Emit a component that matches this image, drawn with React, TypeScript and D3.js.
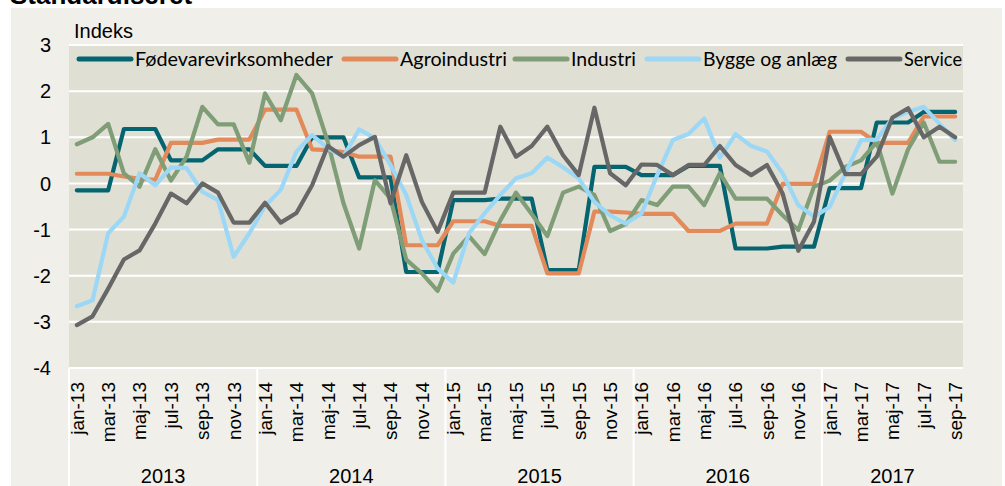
import React from "react";
import * as d3 from "d3";

const monthNames = ["jan", "feb", "mar", "apr", "maj", "jun", "jul", "aug", "sep", "okt", "nov", "dec"];
const years = ["2013", "2014", "2015", "2016", "2017"];
const months: string[] = [];
years.forEach((y) => monthNames.forEach((m) => months.push(`${m}-${y.slice(2)}`)));
const categories = months.slice(0, 57);

const yTicks = [-4, -3, -2, -1, 0, 1, 2, 3];

const fodevare = [
  -0.15, -0.15, -0.15, 1.18, 1.18, 1.18, 0.5, 0.5, 0.5, 0.74, 0.74, 0.74,
  0.38, 0.38, 0.38, 1.0, 1.0, 1.0, 0.13, 0.13, 0.13, -1.92, -1.92, -1.92,
  -0.36, -0.36, -0.36, -0.33, -0.33, -0.33, -1.88, -1.88, -1.88, 0.36, 0.36, 0.36,
  0.18, 0.18, 0.18, 0.38, 0.38, 0.38, -1.41, -1.41, -1.41, -1.37, -1.37, -1.37,
  -0.1, -0.1, -0.1, 1.32, 1.32, 1.32, 1.55, 1.55, 1.55,
];
const agro = [
  0.21, 0.21, 0.21, 0.15, 0.1, 0.08, 0.88, 0.88, 0.88, 0.95, 0.95, 0.95,
  1.6, 1.6, 1.6, 0.74, 0.72, 0.68, 0.58, 0.58, 0.58, -1.34, -1.34, -1.34,
  -0.82, -0.82, -0.82, -0.92, -0.92, -0.92, -1.95, -1.95, -1.95, -0.61, -0.61, -0.63,
  -0.66, -0.66, -0.66, -1.03, -1.03, -1.03, -0.87, -0.87, -0.87, -0.01, -0.01, -0.01,
  1.12, 1.12, 1.12, 0.88, 0.88, 0.88, 1.45, 1.45, 1.45,
];
const industri = [
  0.85, 1.0, 1.29, 0.22, -0.07, 0.74, 0.06, 0.58, 1.66, 1.28, 1.28, 0.45,
  1.95, 1.37, 2.35, 1.95, 0.9, -0.43, -1.41, 0.07, -0.33, -1.65, -1.95, -2.33,
  -1.52, -1.14, -1.53, -0.8, -0.2, -0.66, -1.14, -0.2, -0.07, -0.25, -1.03, -0.88,
  -0.36, -0.47, -0.07, -0.07, -0.47, 0.22, -0.33, -0.33, -0.33, -0.69, -1.01, -0.07,
  0.06, 0.36, 0.5, 0.9, -0.22, 0.74, 1.32, 0.47, 0.47,
];
const bygge = [
  -2.66, -2.53, -1.08, -0.72, 0.22, -0.04, 0.35, 0.33, -0.18, -0.36, -1.59, -1.08,
  -0.49, -0.14, 0.69, 1.05, 0.76, 0.58, 1.17, 0.98, 0.4, -0.25, -1.23, -1.84,
  -2.15, -1.08, -0.65, -0.25, 0.11, 0.22, 0.56, 0.35, 0.11, -0.4, -0.69, -0.87,
  -0.65, 0.18, 0.94, 1.07, 1.41, 0.56, 1.07, 0.81, 0.69, 0.22, -0.47, -0.72,
  -0.51, 0.22, 0.94, 0.95, 1.41, 1.55, 1.66, 1.29, 0.94,
];
const service = [
  -3.07, -2.88, -2.28, -1.65, -1.45, -0.87, -0.22, -0.43, 0.0, -0.2, -0.85, -0.85,
  -0.42, -0.85, -0.64, -0.04, 0.81, 0.58, 0.83, 1.01, -0.43, 0.61, -0.4, -1.05,
  -0.2, -0.2, -0.2, 1.23, 0.58, 0.81, 1.23, 0.61, 0.18, 1.64, 0.22, -0.04,
  0.41, 0.4, 0.18, 0.4, 0.4, 0.81, 0.4, 0.18, 0.4, -0.22, -1.46, -0.83,
  1.01, 0.2, 0.2, 0.58, 1.43, 1.63, 1.0, 1.23, 1.0,
];

const seriesNames = ["Fødevarevirksomheder", "Agroindustri", "Industri", "Bygge og anlæg", "Service"];
const seriesValues = [fodevare, agro, industri, bygge, service];
const seriesColors = ["#04646f", "#e28a5a", "#7f9d77", "#9cd8f5", "#676767"];

// legend layout (positions)
const legendLineX = [77, 342, 513, 645, 846];
const legendTextW = [198, 107, 65, 134, 58];

const W = 1005;
const H = 486;
const plotL = 69;
const plotR = 963;
const plotT = 45;
const plotB = 368;

export default function App() {
  const x = d3.scalePoint<string>().domain(categories).range([plotL, plotR]).padding(0.5);
  const y = d3.scaleLinear().domain([-4, 3]).range([plotB, plotT]);
  const step = x.step();
  const line = d3
    .line<number>()
    .x((_, i) => x(categories[i]) as number)
    .y((d) => y(d));

  const yearBounds = years.map((_, k) => plotL + k * 12 * step);
  const axisFont = "'Liberation Sans', Arial, sans-serif";

  return (
    <svg
      width={W}
      height={H}
      style={{ position: "absolute", left: 0, top: 0, display: "block" }}
    >
      <rect x={0} y={0} width={W} height={H} fill="#ffffff" />
      <rect x={11} y={8} width={991} height={H - 8} fill="#f0efe9" />
      <text x={10} y={4} fontFamily={axisFont} fontWeight="bold" fontSize={26} fill="#000">
        Standardiseret
      </text>
      <rect x={plotL} y={plotT} width={plotR - plotL} height={plotB - plotT} fill="#e0dfd4" />
      {yTicks.map((t) => (
        <line key={t} x1={plotL} x2={plotR} y1={y(t)} y2={y(t)} stroke="#ffffff" strokeWidth={2} />
      ))}
      {yTicks.map((t) => (
        <text
          key={"l" + t}
          x={51}
          y={y(t)}
          dy="0.36em"
          textAnchor="end"
          fontFamily={axisFont}
          fontSize={20}
          fill="#000"
        >
          {t}
        </text>
      ))}
      <text x={74} y={38} fontFamily={axisFont} fontSize={20} fill="#000">
        Indeks
      </text>
      {/* category axis separators */}
      {[...yearBounds].map((bx, k) => (
        <line key={"s" + k} x1={bx} x2={bx} y1={plotB} y2={H} stroke="#ffffff" strokeWidth={2} />
      ))}
      {categories.map((c, i) =>
        i % 2 === 0 ? (
          <text
            key={"m" + c}
            transform={`translate(${x(c)},382) rotate(-90)`}
            dy="0.36em"
            textAnchor="end"
            fontFamily={axisFont}
            fontSize={19}
            fill="#000"
          >
            {c}
          </text>
        ) : null
      )}
      {years.map((yr, k) => {
        const start = plotL + k * 12 * step;
        const n = Math.min(12, categories.length - k * 12);
        const cx = start + (n * step) / 2;
        return (
          <text
            key={yr}
            x={cx}
            y={483}
            textAnchor="middle"
            fontFamily={axisFont}
            fontSize={20}
            fill="#000"
          >
            {yr}
          </text>
        );
      })}
      {seriesValues.map((vals, s) => (
        <path
          key={seriesNames[s]}
          d={line(vals) || ""}
          fill="none"
          stroke={seriesColors[s]}
          strokeWidth={4.2}
          strokeLinejoin="round"
          strokeLinecap="round"
        />
      ))}
      {seriesNames.map((name, s) => (
        <g key={"lg" + s}>
          <line
            x1={legendLineX[s] + 2}
            x2={legendLineX[s] + 54}
            y1={59}
            y2={59}
            stroke={seriesColors[s]}
            strokeWidth={5}
            strokeLinecap="round"
          />
          <text
            x={legendLineX[s] + 58}
            y={66}
            fontFamily="Lato, 'Open Sans', sans-serif"
            fontSize={20}
            fill="#000"
            textLength={legendTextW[s]}
            lengthAdjust="spacingAndGlyphs"
          >
            {name}
          </text>
        </g>
      ))}
    </svg>
  );
}
